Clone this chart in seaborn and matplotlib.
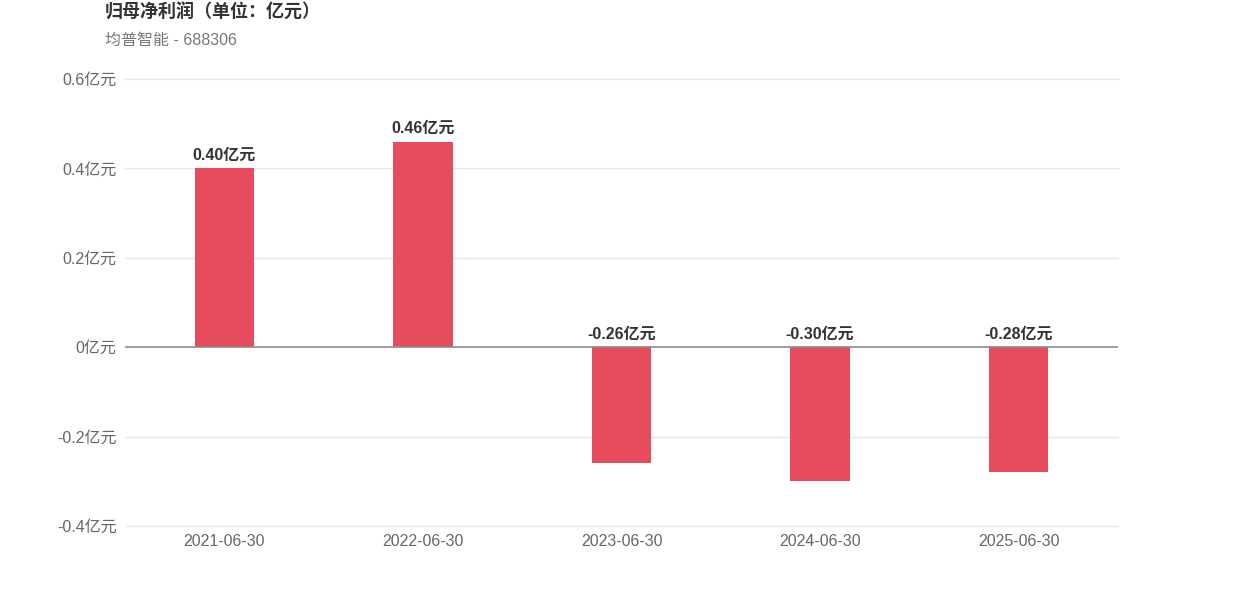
import matplotlib
matplotlib.use('Agg')
import matplotlib.pyplot as plt
import seaborn as sns
import pandas as pd

# data
dates = ['2021-06-30', '2022-06-30', '2023-06-30', '2024-06-30', '2025-06-30']
profit = [0.40, 0.46, -0.26, -0.30, -0.28]
y_ticks = [-0.4, -0.2, 0, 0.2, 0.4, 0.6]

title = '归母净利润（单位：亿元）'
subtitle = '均普智能 - 688306'

sns.set_style('white')
plt.rcParams['font.family'] = ['Liberation Sans', 'Noto Sans CJK SC', 'DejaVu Sans']

df = pd.DataFrame({'date': dates, 'profit': profit})

fig = plt.figure(figsize=(12.42, 5.96), dpi=100)
W, H = 1242, 596
ax = fig.add_axes([125 / W, 1 - 526 / H, (1118 - 125) / W, (526 - 79) / H])

sns.barplot(data=df, x='date', y='profit', color='#e64b5e', width=0.3,
            saturation=1, linewidth=0, ax=ax, zorder=3)

ax.set_ylim(-0.4, 0.6)
ax.set_xlim(-0.5, len(dates) - 0.5)
ax.set_yticks(y_ticks)
ax.set_yticklabels([f'{v:g}亿元' for v in y_ticks])
# grid lines, drawn by hand so the bottom one is not clipped
for t in y_ticks:
    if t != 0:
        ax.axhline(t, color='#e6e6e6', linewidth=1, zorder=0, clip_on=False)
ax.axhline(0, color='#8c8c8c', linewidth=1.2, zorder=4)
for s in ax.spines.values():
    s.set_visible(False)
ax.tick_params(axis='both', length=0, labelsize=11.5, colors='#666666')
ax.tick_params(axis='x', pad=6)
ax.tick_params(axis='y', pad=6)
ax.set_xlabel('')
ax.set_ylabel('')

for i, v in enumerate(profit):
    ax.annotate(f'{v:.2f}亿元', xy=(i, max(v, 0)), xytext=(0, 4),
                textcoords='offset points', ha='center', va='bottom',
                fontsize=11.5, fontweight='bold', color='#333333')

fig.text(105 / W, 1 - 13 / H, title, fontsize=13, fontweight='bold',
         color='#333333', ha='left', va='center')
fig.text(105 / W, 1 - 40 / H, subtitle, fontsize=11.5, color='#777777',
         ha='left', va='center')

fig.savefig('out.png', dpi=100)
